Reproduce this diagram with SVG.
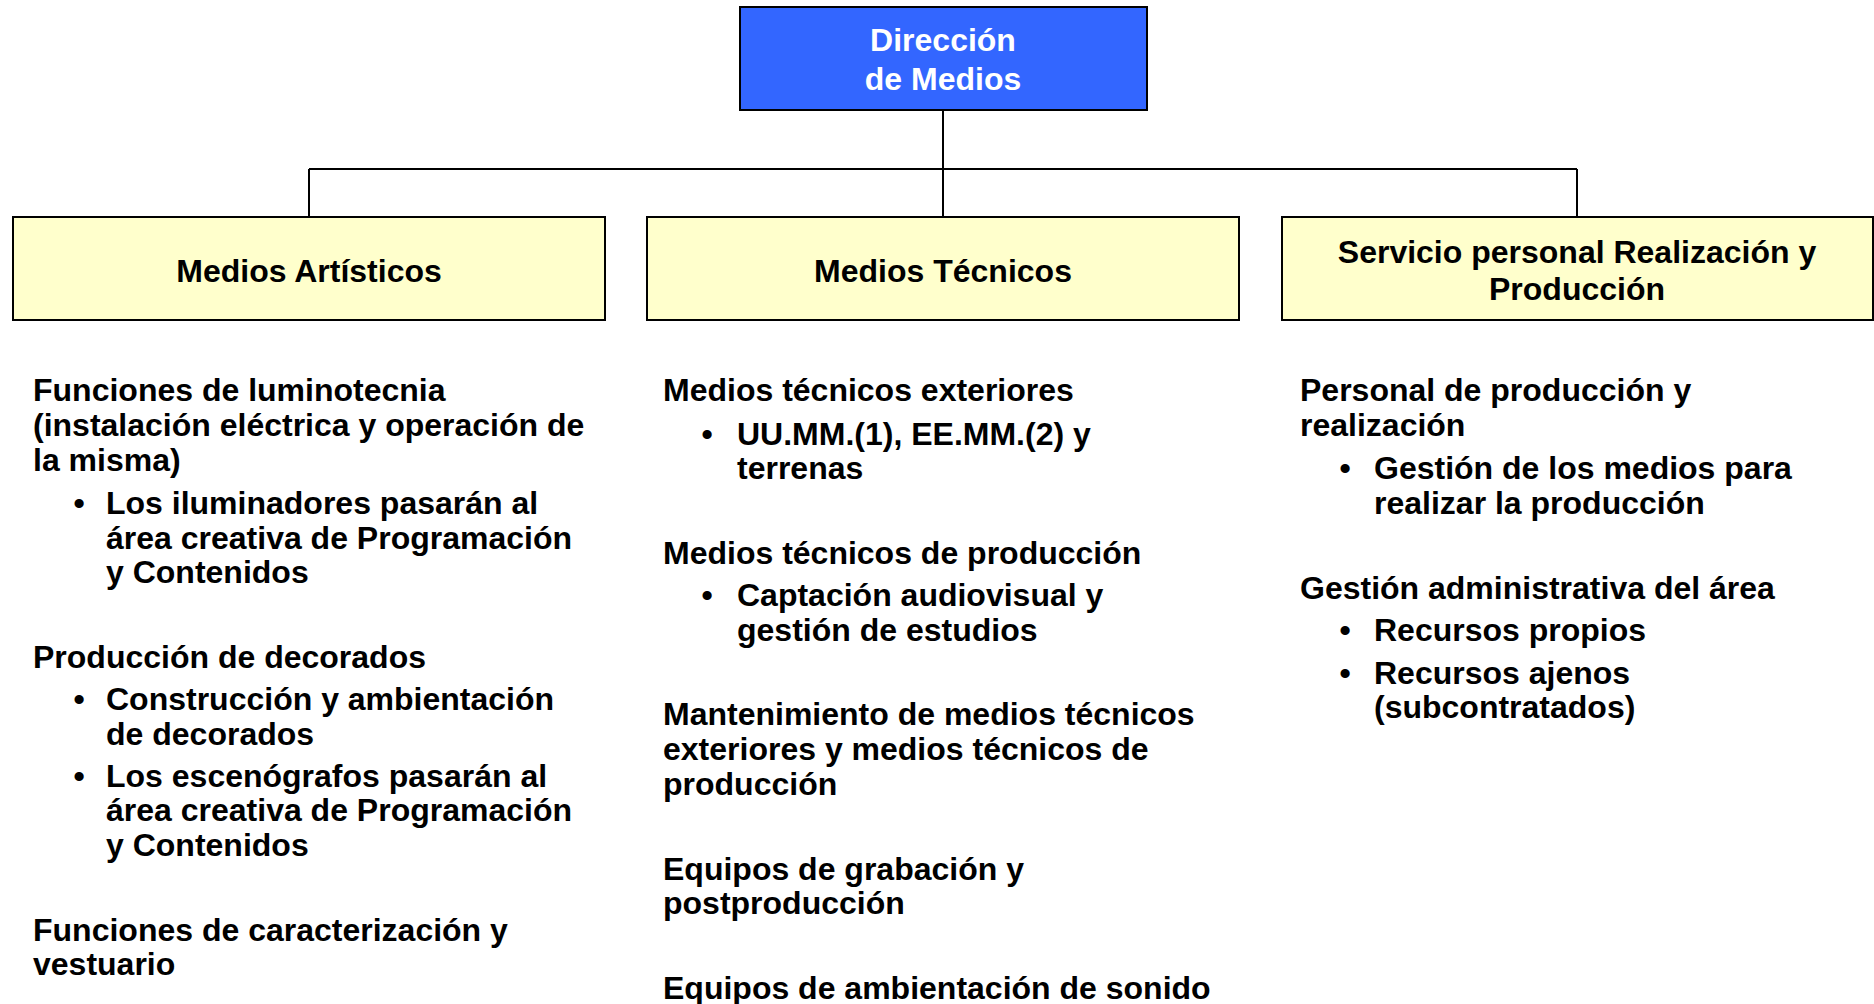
<svg xmlns="http://www.w3.org/2000/svg" width="1874" height="1004" viewBox="0 0 1874 1004">
<style>
text{font-family:"Liberation Sans",Arial,sans-serif;font-weight:bold;font-size:32px;fill:#000}
.top{fill:#3366FF;stroke:#000;stroke-width:2}
.box{fill:#FFFFCC;stroke:#000;stroke-width:2}
.w{fill:#fff}
.c{text-anchor:middle}
.conn{stroke:#000;stroke-width:2;fill:none}
</style>
<rect width="1874" height="1004" fill="#fff"/>
<g id="connectors">
<path class="conn" d="M943 110V169M309 169H1577M309 169V217M943 169V217M1577 169V217"/>
</g>
<g id="direccion">
<rect class="top" x="740" y="7" width="407" height="103"/>
<text class="w c" x="943" y="51">Dirección</text>
<text class="w c" x="943" y="90">de Medios</text>
</g>
<g id="medios-artisticos">
<rect class="box" x="13" y="217" width="592" height="103"/>
<text class="c" x="309" y="282">Medios Artísticos</text>
</g>
<g id="medios-tecnicos">
<rect class="box" x="647" y="217" width="592" height="103"/>
<text class="c" x="943" y="282">Medios Técnicos</text>
</g>
<g id="servicio-personal">
<rect class="box" x="1282" y="217" width="591" height="103"/>
<text class="c" x="1577" y="263">Servicio personal Realización y</text>
<text class="c" x="1577" y="300">Producción</text>
</g>
<g id="texto-artisticos">
<text x="33" y="400.5">Funciones de luminotecnia</text>
<text x="33" y="435.5">(instalación eléctrica y operación de</text>
<text x="33" y="470.5">la misma)</text>
<text class="c" x="79" y="513.5">•</text>
<text x="106" y="513.5">Los iluminadores pasarán al</text>
<text x="106" y="548.5">área creativa de Programación</text>
<text x="106" y="582.5">y Contenidos</text>
<text x="33" y="667.5">Producción de decorados</text>
<text class="c" x="79" y="709.5">•</text>
<text x="106" y="709.5">Construcción y ambientación</text>
<text x="106" y="744.5">de decorados</text>
<text class="c" x="79" y="786.5">•</text>
<text x="106" y="786.5">Los escenógrafos pasarán al</text>
<text x="106" y="820.5">área creativa de Programación</text>
<text x="106" y="855.5">y Contenidos</text>
<text x="33" y="940.5">Funciones de caracterización y</text>
<text x="33" y="974.5">vestuario</text>
</g>
<g id="texto-tecnicos">
<text x="663" y="400.5">Medios técnicos exteriores</text>
<text class="c" x="707" y="444.5">•</text>
<text x="737" y="444.5">UU.MM.(1), EE.MM.(2) y</text>
<text x="737" y="478.5">terrenas</text>
<text x="663" y="563.5">Medios técnicos de producción</text>
<text class="c" x="707" y="605.5">•</text>
<text x="737" y="605.5">Captación audiovisual y</text>
<text x="737" y="640.5">gestión de estudios</text>
<text x="663" y="724.5">Mantenimiento de medios técnicos</text>
<text x="663" y="759.5">exteriores y medios técnicos de</text>
<text x="663" y="794.5">producción</text>
<text x="663" y="879.5">Equipos de grabación y</text>
<text x="663" y="913.5">postproducción</text>
<text x="663" y="998.5">Equipos de ambientación de sonido</text>
</g>
<g id="texto-servicio">
<text x="1300" y="400.5">Personal de producción y</text>
<text x="1300" y="435.5">realización</text>
<text class="c" x="1345" y="478.5">•</text>
<text x="1374" y="478.5">Gestión de los medios para</text>
<text x="1374" y="513.5">realizar la producción</text>
<text x="1300" y="598.5">Gestión administrativa del área</text>
<text class="c" x="1345" y="640.5">•</text>
<text x="1374" y="640.5">Recursos propios</text>
<text class="c" x="1345" y="683.5">•</text>
<text x="1374" y="683.5">Recursos ajenos</text>
<text x="1374" y="717.5">(subcontratados)</text>
</g>
</svg>
